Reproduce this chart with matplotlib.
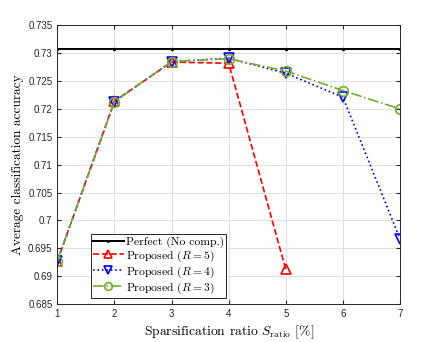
import numpy as np
import matplotlib
matplotlib.use("Agg")
import matplotlib.pyplot as plt

plt.rcParams['mathtext.fontset'] = 'cm'
plt.rcParams['font.family'] = ['Liberation Sans', 'DejaVu Sans']

# 数据
x = [1, 2, 3, 4, 5, 6, 7]
perfect = [0.7308] * 7
r5_x = [1, 2, 3, 4, 5]
r5 = [0.6927, 0.7214, 0.7284, 0.7282, 0.6912]
r4 = [0.6927, 0.7213, 0.7285, 0.7291, 0.7264, 0.7221, 0.6967]
r3 = [0.6927, 0.7213, 0.7285, 0.7290, 0.7268, 0.7233, 0.7200]
labels = ['Perfect (No comp.)', r'Proposed ($R = 5$)',
          r'Proposed ($R = 4$)', r'Proposed ($R = 3$)']

fig = plt.figure(figsize=(4.42, 3.42), dpi=100)
ax = fig.add_axes([0.1297, 0.111, 0.7753, 0.815])

ax.plot(x, perfect, color='black', lw=1.4, marker='.', ms=3, label=labels[0])
ax.plot(r5_x, r5, color='red', ls='--', lw=1.2, marker='^', ms=7,
        mfc='none', mew=1.2, label=labels[1])
ax.plot(x, r4, color='blue', ls=':', lw=1.2, marker='v', ms=7,
        mfc='none', mew=1.2, label=labels[2])
ax.plot(x, r3, color='#77AC30', ls='-.', lw=1.2, marker='o', ms=7,
        mfc='none', mew=1.2, label=labels[3])

ax.set_xlim(1, 7)
ax.set_ylim(0.685, 0.735)
ax.set_xticks(x)
ax.set_yticks(np.arange(0.685, 0.7351, 0.005))
ax.set_yticklabels(['0.685', '0.69', '0.695', '0.7', '0.705', '0.71',
                    '0.715', '0.72', '0.725', '0.73', '0.735'])
ax.tick_params(direction='in', labelsize=7, colors='#262626', length=3,
               top=True, right=True)
ax.grid(True, color='#e0e0e0', lw=0.7)
ax.set_axisbelow(True)
for s in ax.spines.values():
    s.set_color('#262626')
    s.set_linewidth(0.7)

ax.set_xlabel(r'Sparsification ratio $S_{\mathrm{ratio}}$ [%]',
              fontfamily='cmr10', fontsize=9.8, labelpad=3)
ax.set_ylabel('Average classification accuracy', fontfamily='cmr10',
              fontsize=9.6, labelpad=3)

leg = ax.legend(loc='lower left', bbox_to_anchor=(0.098, 0.022),
                prop={'family': 'cmr10', 'size': 8.4}, fancybox=False,
                edgecolor='#262626', framealpha=1, borderpad=0.2,
                labelspacing=0.05, handlelength=2.6, handletextpad=0.2,
                borderaxespad=0, markerscale=0.8)
leg.get_frame().set_linewidth(0.7)

fig.savefig('out.png', dpi=100)
